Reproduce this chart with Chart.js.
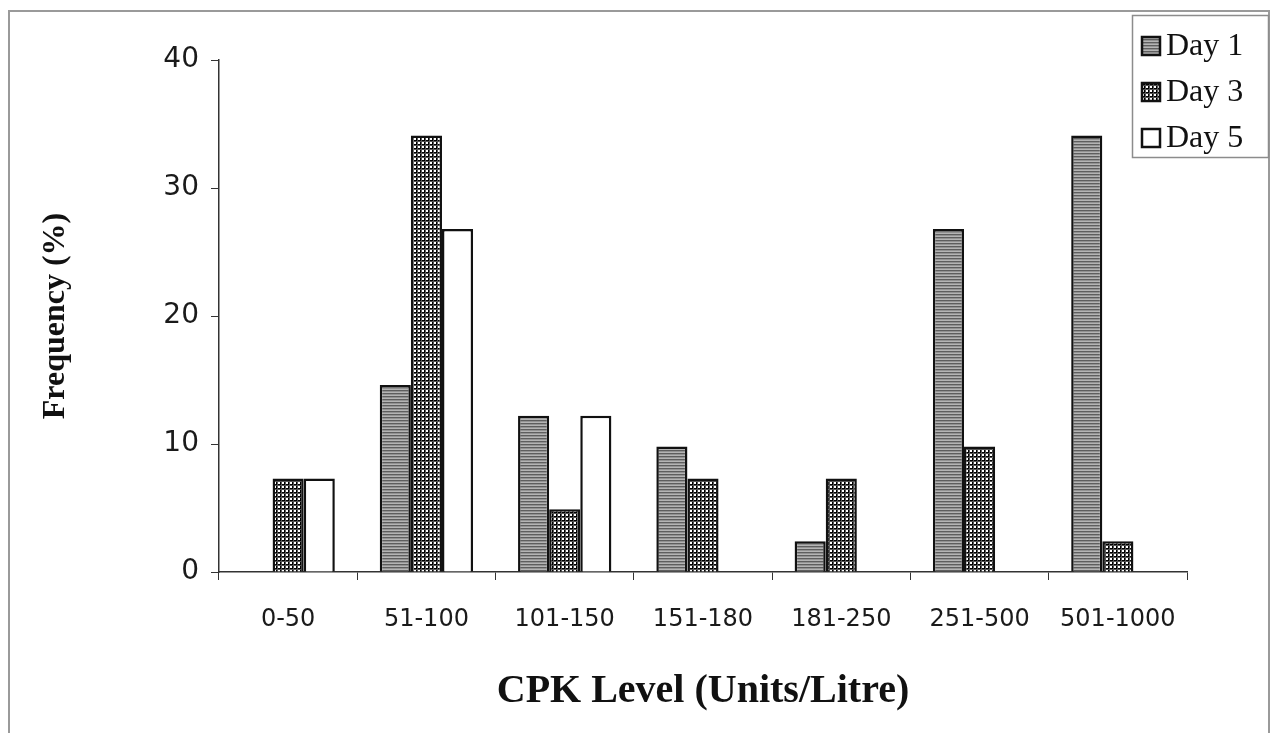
<!DOCTYPE html>
<html>
<head>
<meta charset="utf-8">
<title>CPK Level distribution</title>
<script src="https://cdn.jsdelivr.net/npm/chart.js@4/dist/chart.umd.min.js"></script>
<style>
  html, body { margin: 0; padding: 0; background: #fff; overflow: hidden; }
  #frame {
    position: absolute; left: 8px; top: 10px; width: 1262px; height: 760px;
    border: 2px solid #9a9a9a; box-sizing: border-box;
  }
  #wrap { position: absolute; left: 0; top: 0; width: 1278px; height: 733px; }
</style>
</head>
<body>
<div id="frame"></div>
<div id="wrap"><canvas id="cpkChart"></canvas></div>
<script>
  const categories = ['0-50', '51-100', '101-150', '151-180', '181-250', '251-500', '501-1000'];
  const seriesNames = ['Day 1', 'Day 3', 'Day 5'];
  const day1 = [0, 14.6, 12.2, 9.8, 2.4, 26.8, 34.1];
  const day3 = [7.3, 34.1, 4.9, 7.3, 7.3, 9.8, 2.4];
  const day5 = [7.3, 26.8, 12.2, 0, 0, 0, 0];
  const yTicks = [0, 10, 20, 30, 40];

  // small tile patterns for the bar fills
  function makePattern(size, paint) {
    const c = document.createElement('canvas');
    c.width = size; c.height = size;
    const g = c.getContext('2d');
    paint(g, size);
    return g.createPattern(c, 'repeat');
  }

  const ctx = document.getElementById('cpkChart').getContext('2d');

  // horizontal grey lines
  const stripes = makePattern(3, (g, s) => {
    g.fillStyle = '#b4b4b4'; g.fillRect(0, 0, s, s);
    g.fillStyle = '#5e5e5e'; g.fillRect(0, 0, s, 1);
    g.fillStyle = '#929292'; g.fillRect(0, 1, s, 1);
  });

  // black grid with small white holes
  const grid = makePattern(4, (g, s) => {
    g.fillStyle = '#ffffff'; g.fillRect(0, 0, s, s);
    g.fillStyle = '#000'; g.fillRect(0, 0, s, 1); g.fillRect(0, 0, 1, s);
    g.fillStyle = '#555'; g.fillRect(0, 1, s, 1); g.fillRect(1, 0, 1, s);
  });

  // legend box drawn over the top right corner
  const boxLegend = {
    id: 'boxLegend',
    afterDraw(chart) {
      const c = chart.ctx;
      const x = 1132, y = 15, w = 136, h = 142;
      c.save();
      c.fillStyle = '#fff';
      c.fillRect(x, y, w, h);
      c.strokeStyle = '#8c8c8c';
      c.lineWidth = 1.5;
      c.strokeRect(x + 0.5, y + 0.5, w, h);
      c.font = '32px "Liberation Serif", serif';
      c.textBaseline = 'middle';
      chart.data.datasets.forEach((ds, i) => {
        const cy = y + 31 + i * 46;
        c.fillStyle = ds.backgroundColor;
        c.fillRect(x + 10, cy - 9, 18, 18);
        c.strokeStyle = '#111';
        c.lineWidth = 2.5;
        c.strokeRect(x + 10, cy - 9, 18, 18);
        c.fillStyle = '#111';
        c.fillText(ds.label, x + 34, cy + 1);
      });
      c.restore();
    }
  };

  new Chart(ctx, {
    type: 'bar',
    data: {
      labels: categories,
      datasets: [
        { label: seriesNames[0], data: day1, backgroundColor: stripes },
        { label: seriesNames[1], data: day3, backgroundColor: grid },
        { label: seriesNames[2], data: day5, backgroundColor: '#ffffff' }
      ].map(ds => Object.assign(ds, {
        borderColor: '#111',
        borderWidth: 2.5,
        categoryPercentage: 0.675,
        barPercentage: 1
      }))
    },
    options: {
      responsive: true,
      maintainAspectRatio: false,
      animation: false,
      layout: { padding: { left: 0, top: 60, right: 91, bottom: 0 } },
      plugins: {
        legend: { display: false },
        tooltip: { enabled: false }
      },
      scales: {
        x: {
          grid: { offset: true, drawOnChartArea: false, tickLength: 8, color: '#333', lineWidth: 1 },
          border: { color: '#333', width: 1.5 },
          ticks: {
            color: '#1a1a1a',
            padding: 25,
            maxRotation: 0,
            font: { family: '"DejaVu Sans", sans-serif', size: 24 }
          },
          title: {
            display: true,
            text: 'CPK Level (Units/Litre)',
            color: '#111',
            padding: { top: 0, bottom: 17 },
            font: { family: '"Liberation Serif", serif', size: 40, weight: 'bold' }
          },
          afterFit: s => { s.height = 161; }
        },
        y: {
          min: 0,
          max: 40,
          afterBuildTicks: s => { s.ticks = yTicks.map(v => ({ value: v })); },
          grid: { drawOnChartArea: false, tickLength: 8, color: '#333', lineWidth: 1 },
          border: { color: '#333', width: 1.5 },
          ticks: {
            color: '#1a1a1a',
            padding: 12,
            font: { family: '"DejaVu Sans", sans-serif', size: 28 }
          },
          title: {
            display: true,
            text: 'Frequency (%)',
            color: '#111',
            padding: { top: 37, bottom: 0 },
            font: { family: '"Liberation Serif", serif', size: 32, weight: 'bold' }
          },
          afterFit: s => { s.width = 219; }
        }
      }
    },
    plugins: [boxLegend]
  });
</script>
</body>
</html>
